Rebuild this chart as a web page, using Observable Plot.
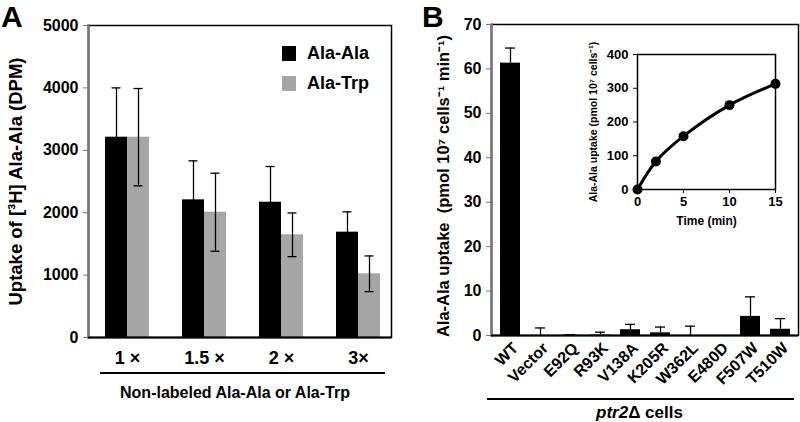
<!DOCTYPE html>
<html>
<head>
<meta charset="utf-8">
<script src="https://cdn.jsdelivr.net/npm/d3@7"></script>
<script src="https://cdn.jsdelivr.net/npm/@observablehq/plot@0.6"></script>
<style>
  body { margin: 0; background: #fff; }
  #wrap { position: relative; width: 800px; height: 422px; overflow: hidden;
          font-family: "Liberation Sans", Arial, Helvetica, sans-serif; font-weight: bold; color: #000; }
  .abs { position: absolute; }
  .abs svg { overflow: visible; }
  .legrow { display: flex; align-items: center; font-size: 18px; height: 18px; }
  .sw { width: 14px; height: 15px; margin-right: 11px; }
</style>
</head>
<body>
<div id="wrap"></div>
<script>
// ---------- Data: panel A ----------
const doses = ["1 ×", "1.5 ×", "2 ×", "3×"];
const seriesA = ["Ala-Ala", "Ala-Trp"];
const alaAlaMean = [3210, 2206, 2168, 1688];
const alaAlaErr  = [790, 625, 572, 326];
const alaTrpMean = [3210, 2008, 1646, 1021];
const alaTrpErr  = [780, 625, 350, 286];
const yTicksA = [0, 1000, 2000, 3000, 4000, 5000];

// ---------- Data: panel B ----------
const strains = ["WT", "Vector", "E92Q", "R93K", "V138A", "K205R", "W362L", "E480D", "F507W", "T510W"];
const uptake    = [61.3, 0, 0.05, 0.1, 1.3, 0.6, 0, 0, 4.3, 1.4];
const uptakeErr = [3.4, 1.7, 0.15, 0.65, 1.2, 1.3, 2.1, 0, 4.4, 2.4];
const yTicksB = [0, 10, 20, 30, 40, 50, 60, 70];

// ---------- Data: inset ----------
const timeMin = [0, 2, 5, 10, 15];
const timeUptake = [0, 83, 158, 250, 313];
const xTicksInset = [0, 5, 10, 15];
const yTicksInset = [0, 100, 200, 300, 400];

const font = '"Liberation Sans", Arial, Helvetica, sans-serif';
const wrap = document.getElementById("wrap");
function place(node, left, top) {
  const d = document.createElement("div");
  d.className = "abs";
  d.style.left = left + "px";
  d.style.top = top + "px";
  d.appendChild(node);
  wrap.appendChild(d);
  return d;
}
function html(str, left, top, extra) {
  const d = document.createElement("div");
  d.className = "abs";
  d.style.left = left + "px";
  d.style.top = top + "px";
  if (extra) Object.assign(d.style, extra);
  d.innerHTML = str;
  wrap.appendChild(d);
  return d;
}
const plain = d => String(d);

// ---------- Panel A ----------
const rowsAA = doses.map((d, i) => ({dose: d, v: alaAlaMean[i], e: alaAlaErr[i]}));
const rowsAT = doses.map((d, i) => ({dose: d, v: alaTrpMean[i], e: alaTrpErr[i]}));
const colorsA = {"Ala-Ala": "#000", "Ala-Trp": "#a6a6a6"};

const plotA = Plot.plot({
  width: 400, height: 422,
  marginLeft: 88, marginRight: 9, marginTop: 25, marginBottom: 85,
  style: {fontFamily: font, fontWeight: "bold", color: "#000", background: "transparent", overflow: "visible"},
  x: {domain: doses, paddingInner: 0.43, paddingOuter: 0.175, align: 0.6},
  y: {domain: [0, 5000]},
  marks: [
    Plot.barY(rowsAA, {x: "dose", y: "v", fill: colorsA["Ala-Ala"], insetRight: 22}),
    Plot.barY(rowsAT, {x: "dose", y: "v", fill: colorsA["Ala-Trp"], insetLeft: 22}),
    Plot.ruleX(rowsAA, {x: "dose", y1: d => d.v - d.e, y2: d => d.v + d.e, dx: -11, stroke: "#000", strokeWidth: 1.3}),
    Plot.ruleX(rowsAT, {x: "dose", y1: d => d.v - d.e, y2: d => d.v + d.e, dx: 11, stroke: "#000", strokeWidth: 1.3}),
    Plot.tickY(rowsAA, {x: "dose", y: d => d.v + d.e, insetLeft: 6.5, insetRight: 28.5, stroke: "#000", strokeWidth: 1.3}),
    Plot.tickY(rowsAA, {x: "dose", y: d => d.v - d.e, insetLeft: 6.5, insetRight: 28.5, stroke: "#000", strokeWidth: 1.3}),
    Plot.tickY(rowsAT, {x: "dose", y: d => d.v + d.e, insetLeft: 28.5, insetRight: 6.5, stroke: "#000", strokeWidth: 1.3}),
    Plot.tickY(rowsAT, {x: "dose", y: d => d.v - d.e, insetLeft: 28.5, insetRight: 6.5, stroke: "#000", strokeWidth: 1.3}),
    Plot.axisY({ticks: yTicksA, tickFormat: plain, tickSize: 5, tickPadding: 5, fontSize: 16, label: null, stroke: "#777"}),
    Plot.axisX({tickSize: 0, tickPadding: 14, fontSize: 18, label: null}),
    Plot.frame({stroke: "#000", strokeWidth: 1.5}),
    Plot.frame({anchor: "left", stroke: "#777", strokeWidth: 2.5}),
    Plot.ruleY([0], {stroke: "#000", strokeWidth: 2}),
    Plot.text(["Uptake of [³H] Ala-Ala (DPM)"], {text: d => d, frameAnchor: "left", textAnchor: "middle", lineAnchor: "middle", rotate: -90, dx: -72, fontSize: 18.5}),
    Plot.text(["Non-labeled Ala-Ala or Ala-Trp"], {text: d => d, frameAnchor: "bottom", lineAnchor: "middle", dy: 55, dx: -5, fontSize: 16})
  ]
});
place(plotA, 0, 0);

// Legend A
const leg = document.createElement("div");
leg.className = "abs";
leg.style.left = "282px";
leg.style.top = "44px";
leg.innerHTML = seriesA.map((s, i) =>
  `<div class="legrow" style="margin-bottom:${i === 0 ? 12 : 0}px"><div class="sw" style="background:${colorsA[s]}"></div>${s}</div>`
).join("");
wrap.appendChild(leg);

// Underline A, letter A
html("", 100, 372, {width: "285px", height: "2px", background: "#000"});
html("A", 1, 2, {fontSize: "30px", lineHeight: "30px"});

// ---------- Panel B ----------
const rowsB = strains.map((s, i) => ({strain: s, v: uptake[i], e: uptakeErr[i]}));
const plotB = Plot.plot({
  width: 400, height: 422,
  marginLeft: 91, marginRight: 2, marginTop: 24, marginBottom: 87,
  style: {fontFamily: font, fontWeight: "bold", color: "#000", background: "transparent", overflow: "visible"},
  x: {domain: strains, paddingInner: 0.35, paddingOuter: 0.18},
  y: {domain: [0, 70]},
  marks: [
    Plot.barY(rowsB, {x: "strain", y: "v", fill: "#000"}),
    Plot.ruleX(rowsB.filter(d => d.e > 0), {x: "strain", y1: "v", y2: d => d.v + d.e, stroke: "#000", strokeWidth: 1.3}),
    Plot.tickY(rowsB.filter(d => d.e > 0), {x: "strain", y: d => d.v + d.e, insetLeft: 5, insetRight: 5, stroke: "#000", strokeWidth: 1.3}),
    Plot.axisY({ticks: yTicksB, tickFormat: plain, tickSize: 5, tickPadding: 5, fontSize: 16, label: null, stroke: "#777"}),
    Plot.axisX({tickSize: 0, tickPadding: 10, tickRotate: -45, fontSize: 16, label: null, dx: 5}),
    Plot.frame({stroke: "#000", strokeWidth: 1.5}),
    Plot.frame({anchor: "left", stroke: "#777", strokeWidth: 2.5}),
    Plot.ruleY([0], {stroke: "#000", strokeWidth: 2}),
    Plot.text(["Ala-Ala uptake  (pmol 10⁷ cells⁻¹ min⁻¹)"], {text: d => d, frameAnchor: "left", textAnchor: "middle", lineAnchor: "middle", rotate: -90, dx: -48, dy: 6, fontSize: 16.5})
  ]
});
place(plotB, 400, 0);

html("", 487, 398, {width: "307px", height: "2px", background: "#000"});
html("<i>ptr2</i>Δ cells", 596, 403, {fontSize: "17px", lineHeight: "20px"});
html("B", 422, 2, {fontSize: "30px", lineHeight: "30px"});

// ---------- Inset ----------
const rowsI = timeMin.map((t, i) => ({t, u: timeUptake[i]}));
const plotI = Plot.plot({
  width: 207, height: 190,
  marginLeft: 57, marginRight: 12, marginTop: 14, marginBottom: 41,
  style: {fontFamily: font, fontWeight: "bold", color: "#000", background: "transparent", overflow: "visible"},
  x: {domain: [0, 15]},
  y: {domain: [0, 400]},
  marks: [
    Plot.frame({stroke: "#000", strokeWidth: 1.5}),
    Plot.line(rowsI, {x: "t", y: "u", curve: "catmull-rom", stroke: "#000", strokeWidth: 3}),
    Plot.dot(rowsI, {x: "t", y: "u", r: 5, fill: "#000"}),
    Plot.axisY({ticks: yTicksInset, tickFormat: plain, tickSize: 4, tickPadding: 5, fontSize: 13, label: null}),
    Plot.axisX({ticks: xTicksInset, tickFormat: plain, tickSize: 4, tickPadding: 3, fontSize: 13, label: null}),
    Plot.text(["Time (min)"], {text: d => d, frameAnchor: "bottom", lineAnchor: "middle", dy: 32, fontSize: 12}),
    Plot.text(["Ala-Ala uptake (pmol 10⁷ cells⁻¹)"], {text: d => d, frameAnchor: "left", textAnchor: "middle", lineAnchor: "middle", rotate: -90, dx: -44, fontSize: 10.5})
  ]
});
place(plotI, 580, 40);
</script>
</body>
</html>
